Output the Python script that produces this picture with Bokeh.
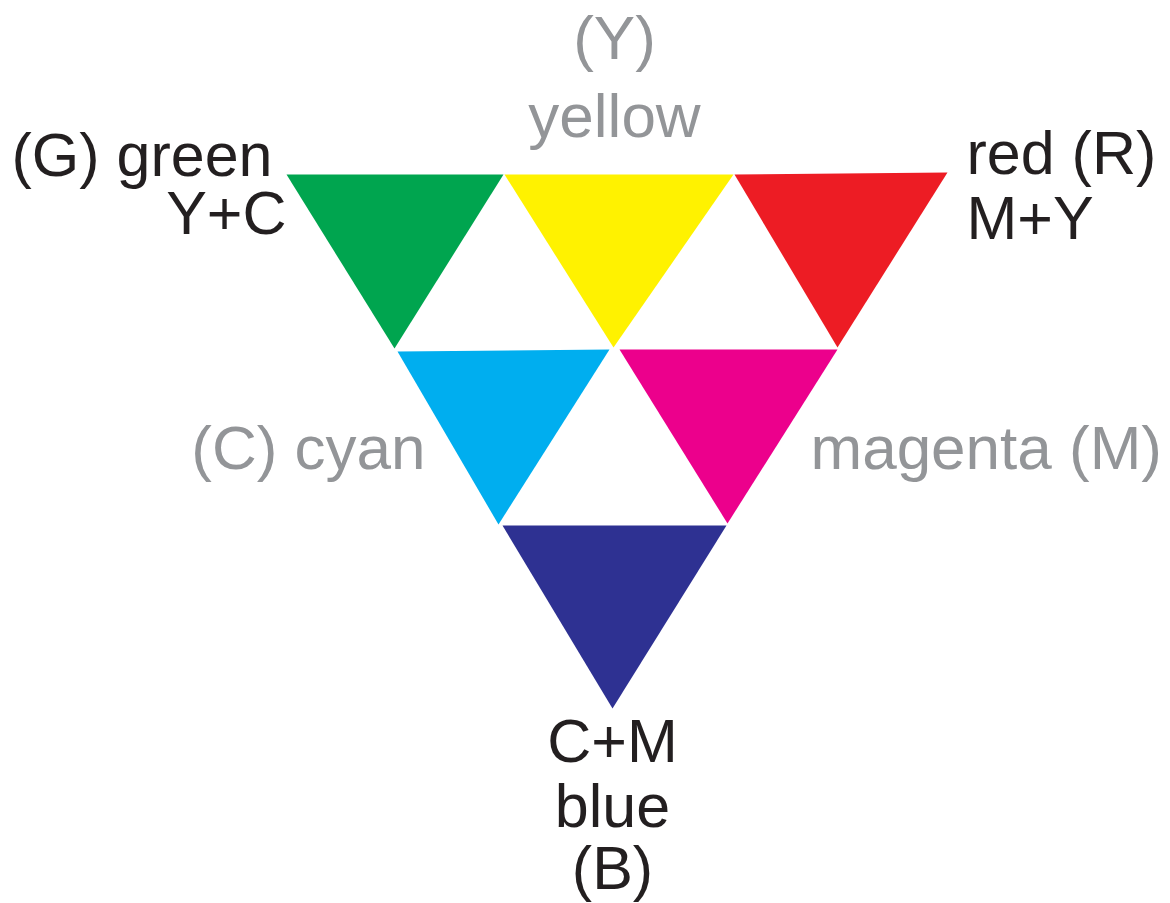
from bokeh.plotting import figure
from bokeh.models import Range1d, ColumnDataSource
from bokeh.core.properties import value
from bokeh.embed import file_html
from bokeh.resources import INLINE

# Triangle names, colours and vertices (pixel-like diagram units)
tri_names = ["green", "yellow", "red", "cyan", "magenta", "blue"]
tri_colors = ["#00A54F", "#FFF200", "#ED1C24", "#00AEEF", "#EC008C", "#2E3192"]
tri_xs = [
    [286, 503, 394],
    [504, 733, 613],
    [734, 947, 837],
    [397, 609, 498],
    [619, 837, 727],
    [502, 726, 612],
]
tri_ys = [
    [174, 174, 348],
    [174, 174, 347],
    [174, 172, 347],
    [351, 349, 524],
    [349, 349, 523],
    [525, 525, 708],
]

# Labels
label_text = ["(Y)", "yellow", "(G) green", "Y+C", "red (R)", "M+Y",
              "(C) cyan", "magenta (M)", "C+M", "blue", "(B)"]
label_x = [614, 614, 272, 286, 966, 966, 425, 810, 612, 612, 612]
label_y = [37, 115, 154, 212, 152, 217, 447, 447, 740, 805, 867]
label_align = ["center", "center", "right", "right", "left", "left",
               "right", "left", "center", "center", "center"]
label_color = ["#939598", "#939598", "#231F20", "#231F20", "#231F20", "#231F20",
               "#939598", "#939598", "#231F20", "#231F20", "#231F20"]
label_size = ["62px", "62px", "61px", "61px", "61px", "61px",
              "62px", "62px", "61px", "61px", "61px"]

W, H = 1170, 903
p = figure(width=W, height=H, output_backend="svg", toolbar_location=None,
           x_range=Range1d(0, W), y_range=Range1d(H, 0),
           min_border=0, outline_line_color=None)
p.axis.visible = False
p.grid.visible = False
p.background_fill_color = "white"

tsrc = ColumnDataSource(dict(xs=tri_xs, ys=tri_ys, color=tri_colors, name=tri_names))
p.patches("xs", "ys", source=tsrc, fill_color="color", line_color=None)

lsrc = ColumnDataSource(dict(x=label_x, y=label_y, text=label_text,
                             align=label_align, color=label_color, size=label_size))
p.text("x", "y", text="text", source=lsrc, text_align="align",
       text_color="color", text_baseline="alphabetic",
       text_font=value("Liberation Sans"), text_font_size="size")

open("out.html", "w").write(file_html(p, INLINE))
